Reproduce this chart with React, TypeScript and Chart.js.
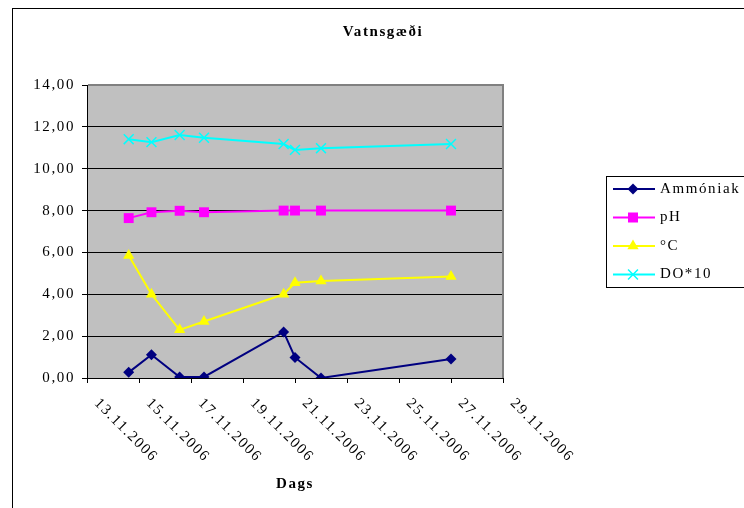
import React, { useEffect, useRef } from 'react';
import { Chart, registerables } from 'chart.js';

Chart.register(...registerables);

// ---------- data ----------
const chartTitle = 'Vatnsgæði';
const xAxisTitle = 'Dags';
const startDate = '2006-11-13T00:00Z';
const endDate = '2006-11-29T00:00Z';
const sampleDates = [
  '2006-11-14T14:30Z',
  '2006-11-15T11:30Z',
  '2006-11-16T13:30Z',
  '2006-11-17T12:00Z',
  '2006-11-20T13:30Z',
  '2006-11-21T00:00Z',
  '2006-11-22T00:00Z',
  '2006-11-27T00:00Z',
];
const seriesNames = ['Ammóniak', 'pH', '°C', 'DO*10'];
const ammoniak = [0.27, 1.11, 0.05, 0.05, 2.2, 0.98, 0.0, 0.91];
const ph = [7.64, 7.92, 7.99, 7.92, 8.0, 8.0, 8.0, 8.0];
const temperature = [5.85, 4.0, 2.3, 2.7, 4.0, 4.55, 4.63, 4.85];
const doTimes10 = [11.41, 11.27, 11.61, 11.48, 11.18, 10.9, 10.98, 11.18];
const yMin = 0;
const yMax = 14;
const yStep = 2;
const xStepDays = 2;

// ---------- helpers ----------
const DAY = 86400000;
const START = Date.parse(startDate);
const dayOffset = (d: string) => (Date.parse(d) - START) / DAY;
const pad2 = (n: number) => (n < 10 ? '0' + n : '' + n);
const formatDay = (v: number) => {
  const d = new Date(START + v * DAY);
  return `${pad2(d.getUTCDate())}.${pad2(d.getUTCMonth() + 1)}.${d.getUTCFullYear()}`;
};
const formatY = (v: number) => v.toFixed(2).replace('.', ',');

const FONT = "'Liberation Serif', 'Times New Roman', serif";
const LS = '1.6px';

const colors = ['#000080', '#FF00FF', '#FFFF00', '#00FFFF'];
const styles = ['rectRot', 'rect', 'triangle', 'crossRot'];
const radii = [5.5, 7, 6.5, 7];
const seriesValues = [ammoniak, ph, temperature, doTimes10];

function drawMarker(ctx: CanvasRenderingContext2D, kind: string, x: number, y: number, color: string) {
  ctx.save();
  ctx.fillStyle = color;
  ctx.strokeStyle = color;
  ctx.beginPath();
  if (kind === 'rectRot') {
    const r = 5.5;
    ctx.moveTo(x, y - r);
    ctx.lineTo(x + r, y);
    ctx.lineTo(x, y + r);
    ctx.lineTo(x - r, y);
    ctx.closePath();
    ctx.fill();
  } else if (kind === 'rect') {
    ctx.rect(x - 5, y - 5, 10, 10);
    ctx.fill();
  } else if (kind === 'triangle') {
    const r = 6.5;
    ctx.moveTo(x, y - r);
    ctx.lineTo(x + r * Math.sin((2 * Math.PI) / 3), y + r / 2);
    ctx.lineTo(x - r * Math.sin((2 * Math.PI) / 3), y + r / 2);
    ctx.closePath();
    ctx.fill();
  } else {
    const o = 4.95;
    ctx.lineWidth = 1.5;
    ctx.moveTo(x - o, y - o);
    ctx.lineTo(x + o, y + o);
    ctx.moveTo(x + o, y - o);
    ctx.lineTo(x - o, y + o);
    ctx.stroke();
  }
  ctx.restore();
}

const decor = {
  id: 'decor',
  beforeLayout(c: any) {
    c.ctx.letterSpacing = LS;
  },
  beforeDraw(c: any) {
    const { ctx, chartArea: a } = c;
    ctx.save();
    ctx.fillStyle = '#ffffff';
    ctx.fillRect(0, 0, c.width, c.height);
    ctx.fillStyle = '#C0C0C0';
    ctx.fillRect(a.left, a.top, a.right - a.left, a.bottom - a.top);
    ctx.restore();
    ctx.letterSpacing = LS;
  },
  beforeDatasetsDraw(c: any) {
    const { ctx, chartArea: a } = c;
    ctx.save();
    ctx.fillStyle = '#808080';
    ctx.fillRect(a.left + 1, a.top - 1, a.right - a.left, 2);
    ctx.fillRect(a.right - 1, a.top - 1, 2, a.bottom - a.top + 1);
    ctx.restore();
  },
  afterDraw(c: any) {
    const { ctx, chartArea: a } = c;
    const xs = c.scales.x;
    ctx.save();
    ctx.letterSpacing = LS;
    // outer border
    ctx.strokeStyle = '#000';
    ctx.lineWidth = 1;
    ctx.strokeRect(12.5, 8.5, 800, 600);
    ctx.fillStyle = '#000';
    // title
    ctx.font = `bold 15px ${FONT}`;
    ctx.textAlign = 'center';
    ctx.textBaseline = 'middle';
    ctx.fillText(chartTitle, 383, 32);
    // x axis title
    ctx.fillText(xAxisTitle, (a.left + a.right) / 2, 484);
    // x tick labels rotated 45 degrees clockwise
    ctx.font = `15px ${FONT}`;
    ctx.textAlign = 'left';
    ctx.textBaseline = 'middle';
    for (const t of xs.ticks) {
      const px = xs.getPixelForValue(t.value);
      ctx.save();
      ctx.translate(px + 9.5, a.bottom + 23);
      ctx.rotate(Math.PI / 4);
      ctx.fillText(formatDay(t.value), 0, 0);
      ctx.restore();
    }
    // legend
    ctx.strokeStyle = '#000';
    ctx.lineWidth = 1;
    ctx.strokeRect(606.5, 176.5, 200, 111);
    const rowY = [189, 217.5, 246, 274.5];
    seriesNames.forEach((name, i) => {
      const y = rowY[i];
      ctx.save();
      ctx.strokeStyle = colors[i];
      ctx.lineWidth = 2;
      ctx.beginPath();
      ctx.moveTo(613, y);
      ctx.lineTo(655, y);
      ctx.stroke();
      ctx.restore();
      drawMarker(ctx, styles[i], 633, y, colors[i]);
      ctx.fillStyle = '#000';
      ctx.font = `15px ${FONT}`;
      ctx.textAlign = 'left';
      ctx.textBaseline = 'middle';
      ctx.fillText(name, 660, y);
    });
    ctx.restore();
  },
};

export default function App() {
  const ref = useRef<HTMLCanvasElement | null>(null);
  useEffect(() => {
    if (!ref.current) return;
    const xVals = sampleDates.map(dayOffset);
    const chart = new Chart(ref.current, {
      type: 'line',
      data: {
        datasets: seriesNames.map((name, i) => ({
          label: name,
          data: xVals.map((x, j) => ({ x, y: seriesValues[i][j] })),
          borderColor: colors[i],
          backgroundColor: colors[i],
          borderWidth: 2,
          pointStyle: styles[i] as any,
          pointRadius: radii[i],
          pointHoverRadius: radii[i],
          pointBorderWidth: i === 3 ? 1.5 : 0,
          pointBorderColor: colors[i],
          pointBackgroundColor: colors[i],
          tension: 0,
          fill: false,
        })),
      },
      plugins: [decor],
      options: {
        animation: false,
        responsive: false,
        events: [],
        layout: { padding: { top: 85, right: 241, bottom: 100, left: 0 } },
        plugins: {
          legend: { display: false },
          title: { display: false },
          tooltip: { enabled: false },
        },
        scales: {
          x: {
            type: 'linear',
            min: 0,
            max: dayOffset(endDate),
            afterFit: (s: any) => {
              s.height = 30;
            },
            ticks: { display: false, stepSize: xStepDays },
            grid: {
              drawOnChartArea: false,
              drawTicks: true,
              tickLength: 5,
              tickColor: '#000',
              color: '#000',
            },
            border: { color: '#000', width: 1 },
          },
          y: {
            min: yMin,
            max: yMax,
            afterFit: (s: any) => {
              s.width = 87;
            },
            ticks: {
              stepSize: yStep,
              color: '#000',
              padding: 7,
              font: { family: FONT, size: 15 },
              callback: (v: any) => formatY(Number(v)),
            },
            grid: {
              color: (ctx: any) => (ctx.tick && ctx.tick.value === yMax ? '#808080' : '#000'),
              tickColor: '#000',
              tickLength: 5,
              lineWidth: 1,
            },
            border: { color: '#000', width: 1 },
          },
        },
      },
    });
    return () => chart.destroy();
  }, []);
  return (
    <div style={{ position: 'absolute', left: 0, top: 0, width: 744, height: 508 }}>
      <canvas ref={ref} width={744} height={508} style={{ display: 'block' }} />
    </div>
  );
}
